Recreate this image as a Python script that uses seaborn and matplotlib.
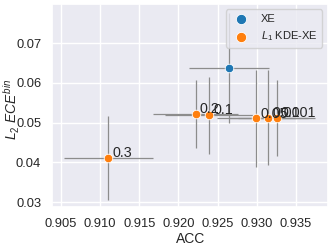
import matplotlib
matplotlib.use("Agg")
import matplotlib.pyplot as plt
import seaborn as sns
import pandas as pd

# XE baseline
xe_acc = [0.92649]
xe_ece = [0.0637]
xe_acc_err = [0.0051]
xe_ece_err = [0.0139]

# L1 KDE-XE with different regularisation weights
kde_labels = ["0.3", "0.2", "0.1", "0.05", "0.01", "0.001"]
kde_acc = [0.91107, 0.92221, 0.92393, 0.92995, 0.93149, 0.93255]
kde_ece = [0.04118, 0.05227, 0.05190, 0.05110, 0.05126, 0.05126]
kde_acc_err = [0.0057, 0.0054, 0.0056, 0.0050, 0.0050, 0.0049]
kde_ece_err = [0.0106, 0.0086, 0.0097, 0.0122, 0.0119, 0.0096]

sns.set_theme(style="darkgrid")
plt.rcParams['font.family'] = ['Liberation Sans', 'DejaVu Sans']
plt.rcParams['mathtext.fontset'] = 'custom'
plt.rcParams['mathtext.it'] = 'Liberation Sans:italic'
plt.rcParams['mathtext.rm'] = 'Liberation Sans'

fig = plt.figure(figsize=(3.32, 2.45), dpi=100)
ax = fig.add_axes([0.1575, 0.154, 0.8305, 0.830])

pal = sns.color_palette("tab10")

ax.errorbar(xe_acc, xe_ece, xerr=xe_acc_err, yerr=xe_ece_err, fmt='none',
            ecolor='0.55', elinewidth=0.9, zorder=1)
ax.errorbar(kde_acc, kde_ece, xerr=kde_acc_err, yerr=kde_ece_err, fmt='none',
            ecolor='0.55', elinewidth=0.9, zorder=1)

df_xe = pd.DataFrame({"ACC": xe_acc, "ECE": xe_ece})
df_kde = pd.DataFrame({"ACC": kde_acc, "ECE": kde_ece})
sns.scatterplot(data=df_xe, x="ACC", y="ECE", color=pal[0], s=38,
                label="XE", ax=ax, zorder=3, edgecolor='white', linewidth=0.6)
sns.scatterplot(data=df_kde, x="ACC", y="ECE", color=pal[1], s=38,
                label="$L_1$ KDE-XE", ax=ax, zorder=3, edgecolor='white', linewidth=0.6)

for lab, x, y in zip(kde_labels, kde_acc, kde_ece):
    ax.text(x + 0.0005, y + 0.0002, lab, fontsize=10.3, color='0.15', zorder=4)

ax.set_xlim(0.9039, 0.9391)
ax.set_ylim(0.0287, 0.0799)
ax.set_xticks([0.905, 0.910, 0.915, 0.920, 0.925, 0.930, 0.935])
ax.set_yticks([0.03, 0.04, 0.05, 0.06, 0.07])
ax.tick_params(labelsize=9.3, pad=2)
ax.set_xlabel("ACC", fontsize=10, labelpad=1)
ax.set_ylabel("$L_2\\ ECE^{bin}$", fontsize=10)
ax.yaxis.set_label_coords(-0.11, 0.48)
ax.legend(loc="upper right", fontsize=8, markerscale=1.2)

fig.savefig("out.png", dpi=100)
